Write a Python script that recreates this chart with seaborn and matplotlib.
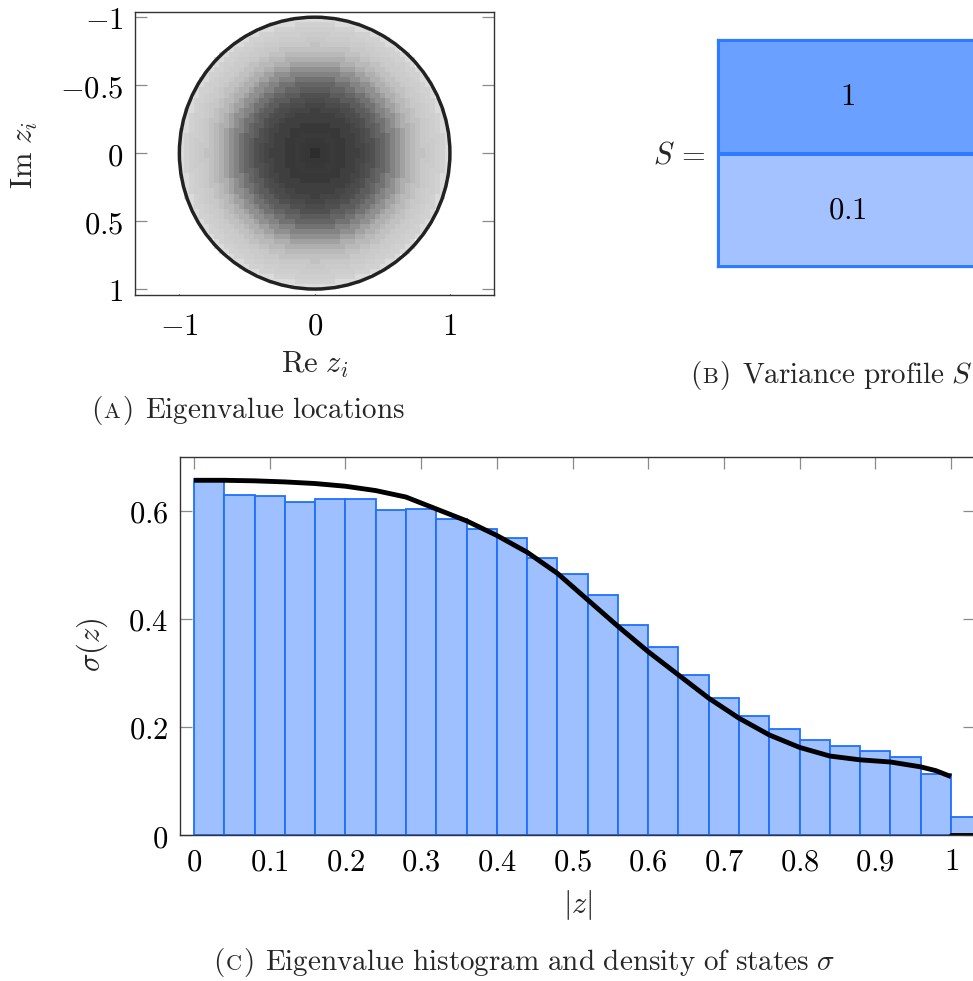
import numpy as np
import matplotlib
matplotlib.use("Agg")
import matplotlib.pyplot as plt
import seaborn as sns
from matplotlib.colors import ListedColormap
from matplotlib.patches import Circle

# ---------------- data ----------------
# (C) radial eigenvalue histogram, bins of width 0.04
hist_bin_edges = [0.00, 0.04, 0.08, 0.12, 0.16, 0.20, 0.24, 0.28, 0.32, 0.36,
                  0.40, 0.44, 0.48, 0.52, 0.56, 0.60, 0.64, 0.68, 0.72, 0.76,
                  0.80, 0.84, 0.88, 0.92, 0.96, 1.00, 1.04]
hist_heights = [0.658, 0.629, 0.627, 0.616, 0.622, 0.622, 0.601, 0.603, 0.584,
                0.565, 0.549, 0.512, 0.483, 0.443, 0.388, 0.347, 0.295, 0.253,
                0.221, 0.196, 0.175, 0.165, 0.156, 0.145, 0.113, 0.033]

# (C) density of states curve
curve_x = [0.00, 0.04, 0.08, 0.12, 0.16, 0.20, 0.24, 0.28, 0.32, 0.36, 0.40,
           0.44, 0.48, 0.52, 0.56, 0.60, 0.64, 0.68, 0.72, 0.76, 0.80, 0.84,
           0.88, 0.92, 0.96, 0.98, 1.00]
curve_y = [0.656, 0.656, 0.655, 0.653, 0.650, 0.645, 0.637, 0.625, 0.603,
           0.581, 0.554, 0.523, 0.484, 0.435, 0.386, 0.339, 0.296, 0.253,
           0.216, 0.185, 0.162, 0.146, 0.139, 0.135, 0.126, 0.119, 0.108]
tail_x = [1.00, 1.06]
tail_y = [0.0, 0.0]

# (B) variance profile
profile_values = [[1.0], [0.1]]
profile_labels = [[r"$1$"], [r"$0.1$"]]

# tick labels
a_xticks = [-1, 0, 1]
a_xticklabels = [r"$-1$", r"$0$", r"$1$"]
a_yticks = [-1, -0.5, 0, 0.5, 1]
a_yticklabels = [r"$-1$", r"$-0.5$", r"$0$", r"$0.5$", r"$1$"]
c_xticks = [0, 0.1, 0.2, 0.3, 0.4, 0.5, 0.6, 0.7, 0.8, 0.9, 1.0]
c_xticklabels = [r"$0$", r"$0.1$", r"$0.2$", r"$0.3$", r"$0.4$", r"$0.5$",
                 r"$0.6$", r"$0.7$", r"$0.8$", r"$0.9$", r"$1$"]
c_yticks = [0, 0.2, 0.4, 0.6]
c_yticklabels = [r"$0$", r"$0.2$", r"$0.4$", r"$0.6$"]

# ---------------- style ----------------
sns.set_theme(style="white")
plt.rcParams["mathtext.fontset"] = "cm"
plt.rcParams["font.family"] = ["DejaVu Serif"]

W, H = 973, 981
FS = 22
FS_CAP = 21
FS_SC = 16
fig = plt.figure(figsize=(W / 100, H / 100), dpi=100)


def fx(px):
    return px / W


def fy(py):
    return 1 - py / H


def axes_px(left, top, right, bottom):
    return fig.add_axes([fx(left), fy(bottom), (right - left) / W, (bottom - top) / H])


def style_axes(ax, xpad, ypad):
    for s in ax.spines.values():
        s.set_visible(True)
        s.set_color("#333333")
        s.set_linewidth(1.0)
    ax.tick_params(axis="both", direction="in", length=8.4, width=0.9,
                   color="#8a8a8a", top=True, right=True, bottom=True, left=True,
                   labelsize=FS, labelcolor="black")
    ax.tick_params(axis="x", pad=xpad)
    ax.tick_params(axis="y", pad=ypad)


# ---------------- (A) eigenvalue locations ----------------
axA = axes_px(135, 12.3, 494.3, 295.3)
ncell = 56
edges = np.linspace(-1.04, 1.04, ncell + 1)
centers = 0.5 * (edges[:-1] + edges[1:])
XX, YY = np.meshgrid(centers, centers)
RR = np.sqrt(XX ** 2 + YY ** 2)
idx = np.clip((RR / 0.04).astype(int), 0, len(hist_heights) - 1)
img = np.where(RR <= 1.0, np.array(hist_heights)[idx], 0.0)
axA.pcolormesh(edges, edges, img, cmap="gray_r", vmin=0, vmax=0.8,
               shading="flat", rasterized=True)
axA.add_patch(Circle((0, 0), 1.0, fill=False, ec="#222222", lw=2.5, zorder=3))
axA.set_xlim(-1.328, 1.328)
axA.set_ylim(1.046, -1.036)
axA.set_xticks(a_xticks)
axA.set_xticklabels(a_xticklabels)
axA.set_yticks(a_yticks)
axA.set_yticklabels(a_yticklabels)
style_axes(axA, xpad=11, ypad=8.5)
axA.set_xlabel("")
axA.set_ylabel("")
fig.text(fx(25), fy(155), r"$\mathrm{Im}\ z_i$", rotation=90, ha="center",
         va="center", fontsize=FS)
fig.text(fx(315), fy(365), r"$\mathrm{Re}\ z_i$", ha="center", va="center",
         fontsize=FS)

# ---------------- (B) variance profile ----------------
axB = axes_px(718, 40, 976, 267)
cmapB = ListedColormap(["#a3c2ff", "#6aa0ff"])
sns.heatmap(profile_values, ax=axB, cmap=cmapB, vmin=0.1, vmax=1.0, cbar=False,
            annot=profile_labels, fmt="", annot_kws={"fontsize": FS, "color": "black"},
            linewidths=1.6, linecolor="#2f7bff", xticklabels=False, yticklabels=False)
for s in axB.spines.values():
    s.set_visible(True)
    s.set_color("#2f7bff")
    s.set_linewidth(1.6)
fig.text(fx(706), fy(155), r"$S\,=$", ha="right", va="center", fontsize=FS)

# ---------------- (C) histogram + density ----------------
axC = axes_px(180, 456.5, 975, 835)
bin_centers = [0.5 * (a + b) for a, b in zip(hist_bin_edges[:-1], hist_bin_edges[1:])]
sns.histplot(x=bin_centers, weights=hist_heights, bins=hist_bin_edges, ax=axC,
             stat="count", color="#9ec0ff", edgecolor="#1f6fff", linewidth=1.3,
             alpha=1.0)
sns.lineplot(x=curve_x, y=curve_y, ax=axC, color="black", linewidth=3.5,
             solid_capstyle="butt")
sns.lineplot(x=tail_x, y=tail_y, ax=axC, color="black", linewidth=3.5)
axC.set_xlim(-0.0185, 1.0317)
axC.set_ylim(0, 0.70)
axC.set_xticks(c_xticks)
axC.set_xticklabels(c_xticklabels)
axC.set_yticks(c_yticks)
axC.set_yticklabels(c_yticklabels)
style_axes(axC, xpad=8, ypad=8.5)
axC.set_xlabel("")
axC.set_ylabel("")
fig.text(fx(92), fy(645), r"$\sigma(z)$", rotation=90, ha="center", va="center",
         fontsize=FS)
fig.text(fx(578), fy(905), r"$|z|$", ha="center", va="center", fontsize=FS)

# ---------------- captions with small-caps letter ----------------
fig.canvas.draw()
renderer = fig.canvas.get_renderer()


def caption(xc, ybase, letter, rest):
    pieces = [(r"$\mathrm{(}$", FS_CAP, 0.5), (r"$\mathrm{" + letter + "}$", FS_SC, 1.0),
              (r"$\mathrm{)}$", FS_CAP, 12), (rest, FS_CAP, 0)]
    items = []
    for s, size, gap in pieces:
        t = fig.text(0, fy(ybase), s, fontsize=size, ha="left", va="baseline")
        w = t.get_window_extent(renderer=renderer).width
        items.append((t, w, gap))
    total = sum(w for _, w, _ in items) + sum(g for _, _, g in items[:-1])
    x = xc - total / 2
    for t, w, gap in items:
        t.set_x(fx(x))
        x += w + gap


caption(248, 418, "A", r"$\mathrm{Eigenvalue\ locations}$")
caption(831, 383, "B", r"$\mathrm{Variance\ profile}\ S$")
caption(524, 970, "C", r"$\mathrm{Eigenvalue\ histogram\ and\ density\ of\ states}\ \sigma$")

fig.savefig("out.png", dpi=100)
